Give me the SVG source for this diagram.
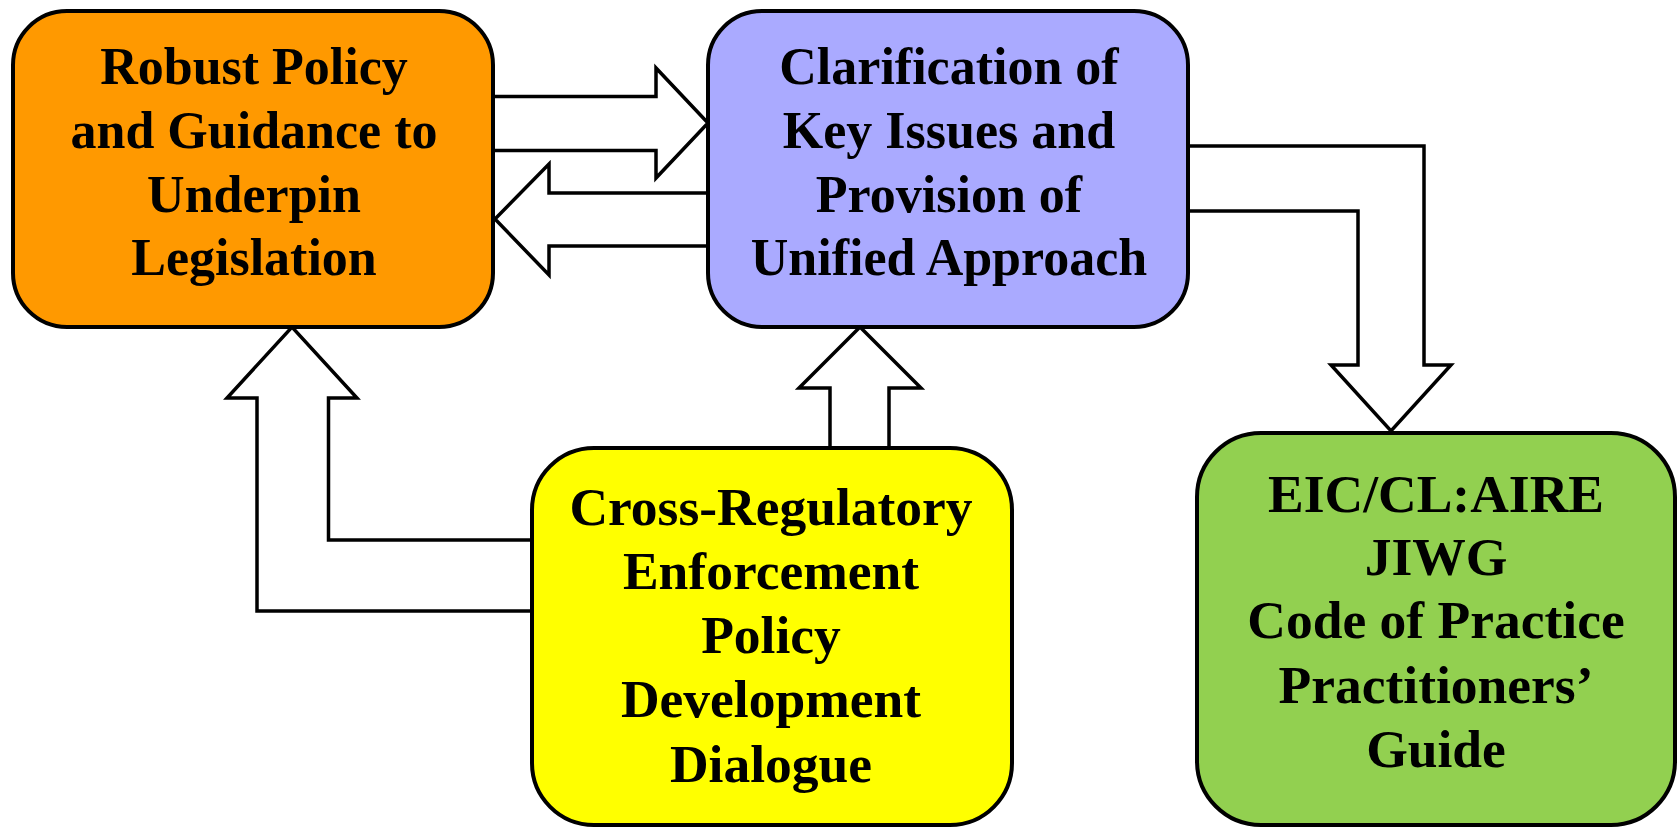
<svg xmlns="http://www.w3.org/2000/svg" width="1678" height="827" viewBox="0 0 1678 827">
<style>
.box{stroke:#000;stroke-width:4}
.arrow{fill:#fff;stroke:#000;stroke-width:3.5;stroke-linejoin:miter}
text{font-family:"Liberation Serif","Times New Roman",serif;font-weight:bold;font-size:52px;fill:#000;text-anchor:middle}
.big text{font-size:53.5px}
</style>
<rect width="1678" height="827" fill="#fff"/>
<g id="connectors">
<path class="arrow" d="M493,96.5 L656,96.5 L656,68 L708,123 L656,178 L656,150.5 L493,150.5"/>
<path class="arrow" d="M708,193 L549,193 L549,164 L495,219 L549,275 L549,246 L708,246"/>
<path class="arrow" d="M1188,146 L1424,146 L1424,365 L1451,365 L1391,431 L1331,365 L1358,365 L1358,211 L1188,211"/>
<path class="arrow" d="M532,540 L328.5,540 L328.5,398 L357,398 L292,327 L227,398 L257,398 L257,611 L532,611"/>
<path class="arrow" d="M830,448 L830,388 L799,388 L860,327 L921,388 L889,388 L889,448"/>
</g>
<g id="node-policy">
<rect class="box" x="13" y="11" width="480" height="316" rx="54" fill="#FF9900"/>
<text x="254" y="84">Robust Policy</text>
<text x="254" y="148">and Guidance to</text>
<text x="254" y="212">Underpin</text>
<text x="254" y="275">Legislation</text>
</g>
<g id="node-clarification">
<rect class="box" x="708" y="11" width="480" height="316" rx="54" fill="#AAAAFF"/>
<text x="949" y="84">Clarification of</text>
<text x="949" y="148">Key Issues and</text>
<text x="949" y="212">Provision of</text>
<text x="949" y="275">Unified Approach</text>
</g>
<g id="node-cross-regulatory" class="big">
<rect class="box" x="532" y="448" width="480" height="377" rx="62" fill="#FFFF00"/>
<text x="771" y="525">Cross-Regulatory</text>
<text x="771" y="589">Enforcement</text>
<text x="771" y="653">Policy</text>
<text x="771" y="717">Development</text>
<text x="771" y="782">Dialogue</text>
</g>
<g id="node-code-of-practice" class="big">
<rect class="box" x="1197" y="433" width="478" height="392" rx="64" fill="#92D050"/>
<text x="1436" y="512">EIC/CL:AIRE</text>
<text x="1436" y="575">JIWG</text>
<text x="1436" y="638">Code of Practice</text>
<text x="1436" y="703">Practitioners’</text>
<text x="1436" y="767">Guide</text>
</g>
</svg>
